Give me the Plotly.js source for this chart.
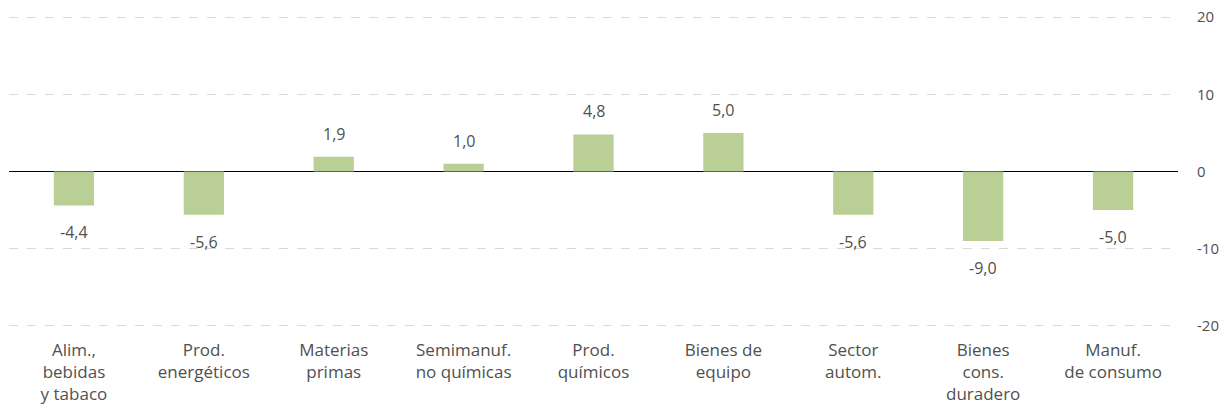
<!DOCTYPE html>
<html>
<head>
<meta charset="utf-8">
<script src="https://cdn.plot.ly/plotly-3.0.1.min.js"></script>
<style>
  html, body { margin: 0; padding: 0; background: #fff; }
  #chart { width: 1229px; height: 410px; }
</style>
</head>
<body>
<div id="chart"></div>
<script>
const categories = [
  'Alim.,<br>bebidas<br>y tabaco',
  'Prod.<br>energéticos',
  'Materias<br>primas',
  'Semimanuf.<br>no químicas',
  'Prod.<br>químicos',
  'Bienes de<br>equipo',
  'Sector<br>autom.',
  'Bienes<br>cons.<br>duradero',
  'Manuf.<br>de consumo'
];
const values = [-4.4, -5.6, 1.9, 1.0, 4.8, 5.0, -5.6, -9.0, -5.0];
const yTicks = [-20, -10, 0, 10, 20];

const textColor = '#505050';
const fontFamily = 'Open Sans, sans-serif';

const trace = {
  type: 'bar',
  x: categories,
  y: values,
  width: 0.31,
  marker: { color: '#B9CF96' },
  hoverinfo: 'skip'
};

// value labels, placed above positive bars and below negative ones
const labels = values.map((v, i) => ({
  x: categories[i],
  y: v,
  text: v.toFixed(1).replace('.', ','),
  showarrow: false,
  yanchor: v >= 0 ? 'bottom' : 'top',
  yshift: v >= 0 ? 10 : -14,
  font: { family: fontFamily, size: 16, color: textColor }
}));

const layout = {
  width: 1229,
  height: 410,
  margin: { l: 9, r: 51, t: 16, b: 83 },
  paper_bgcolor: '#fff',
  plot_bgcolor: '#fff',
  separators: ',.',
  showlegend: false,
  font: { family: fontFamily, size: 16, color: textColor },
  annotations: labels,
  xaxis: {
    type: 'category',
    showgrid: false,
    showline: false,
    zeroline: false,
    ticks: '',
    ticklabelstandoff: 11,
    tickfont: { size: 17, color: textColor }
  },
  yaxis: {
    side: 'right',
    range: [-20.15, 20.15],
    tickvals: yTicks,
    ticktext: yTicks.map(String),
    showgrid: true,
    gridcolor: '#D9D9D9',
    griddash: 'dash',
    gridwidth: 1,
    zeroline: true,
    zerolinecolor: '#000',
    zerolinewidth: 1.8,
    showline: false,
    ticks: '',
    ticklabelstandoff: 18,
    tickfont: { size: 15, color: textColor }
  }
};

Plotly.newPlot('chart', [trace], layout, { displayModeBar: false, staticPlot: true });
</script>
</body>
</html>
